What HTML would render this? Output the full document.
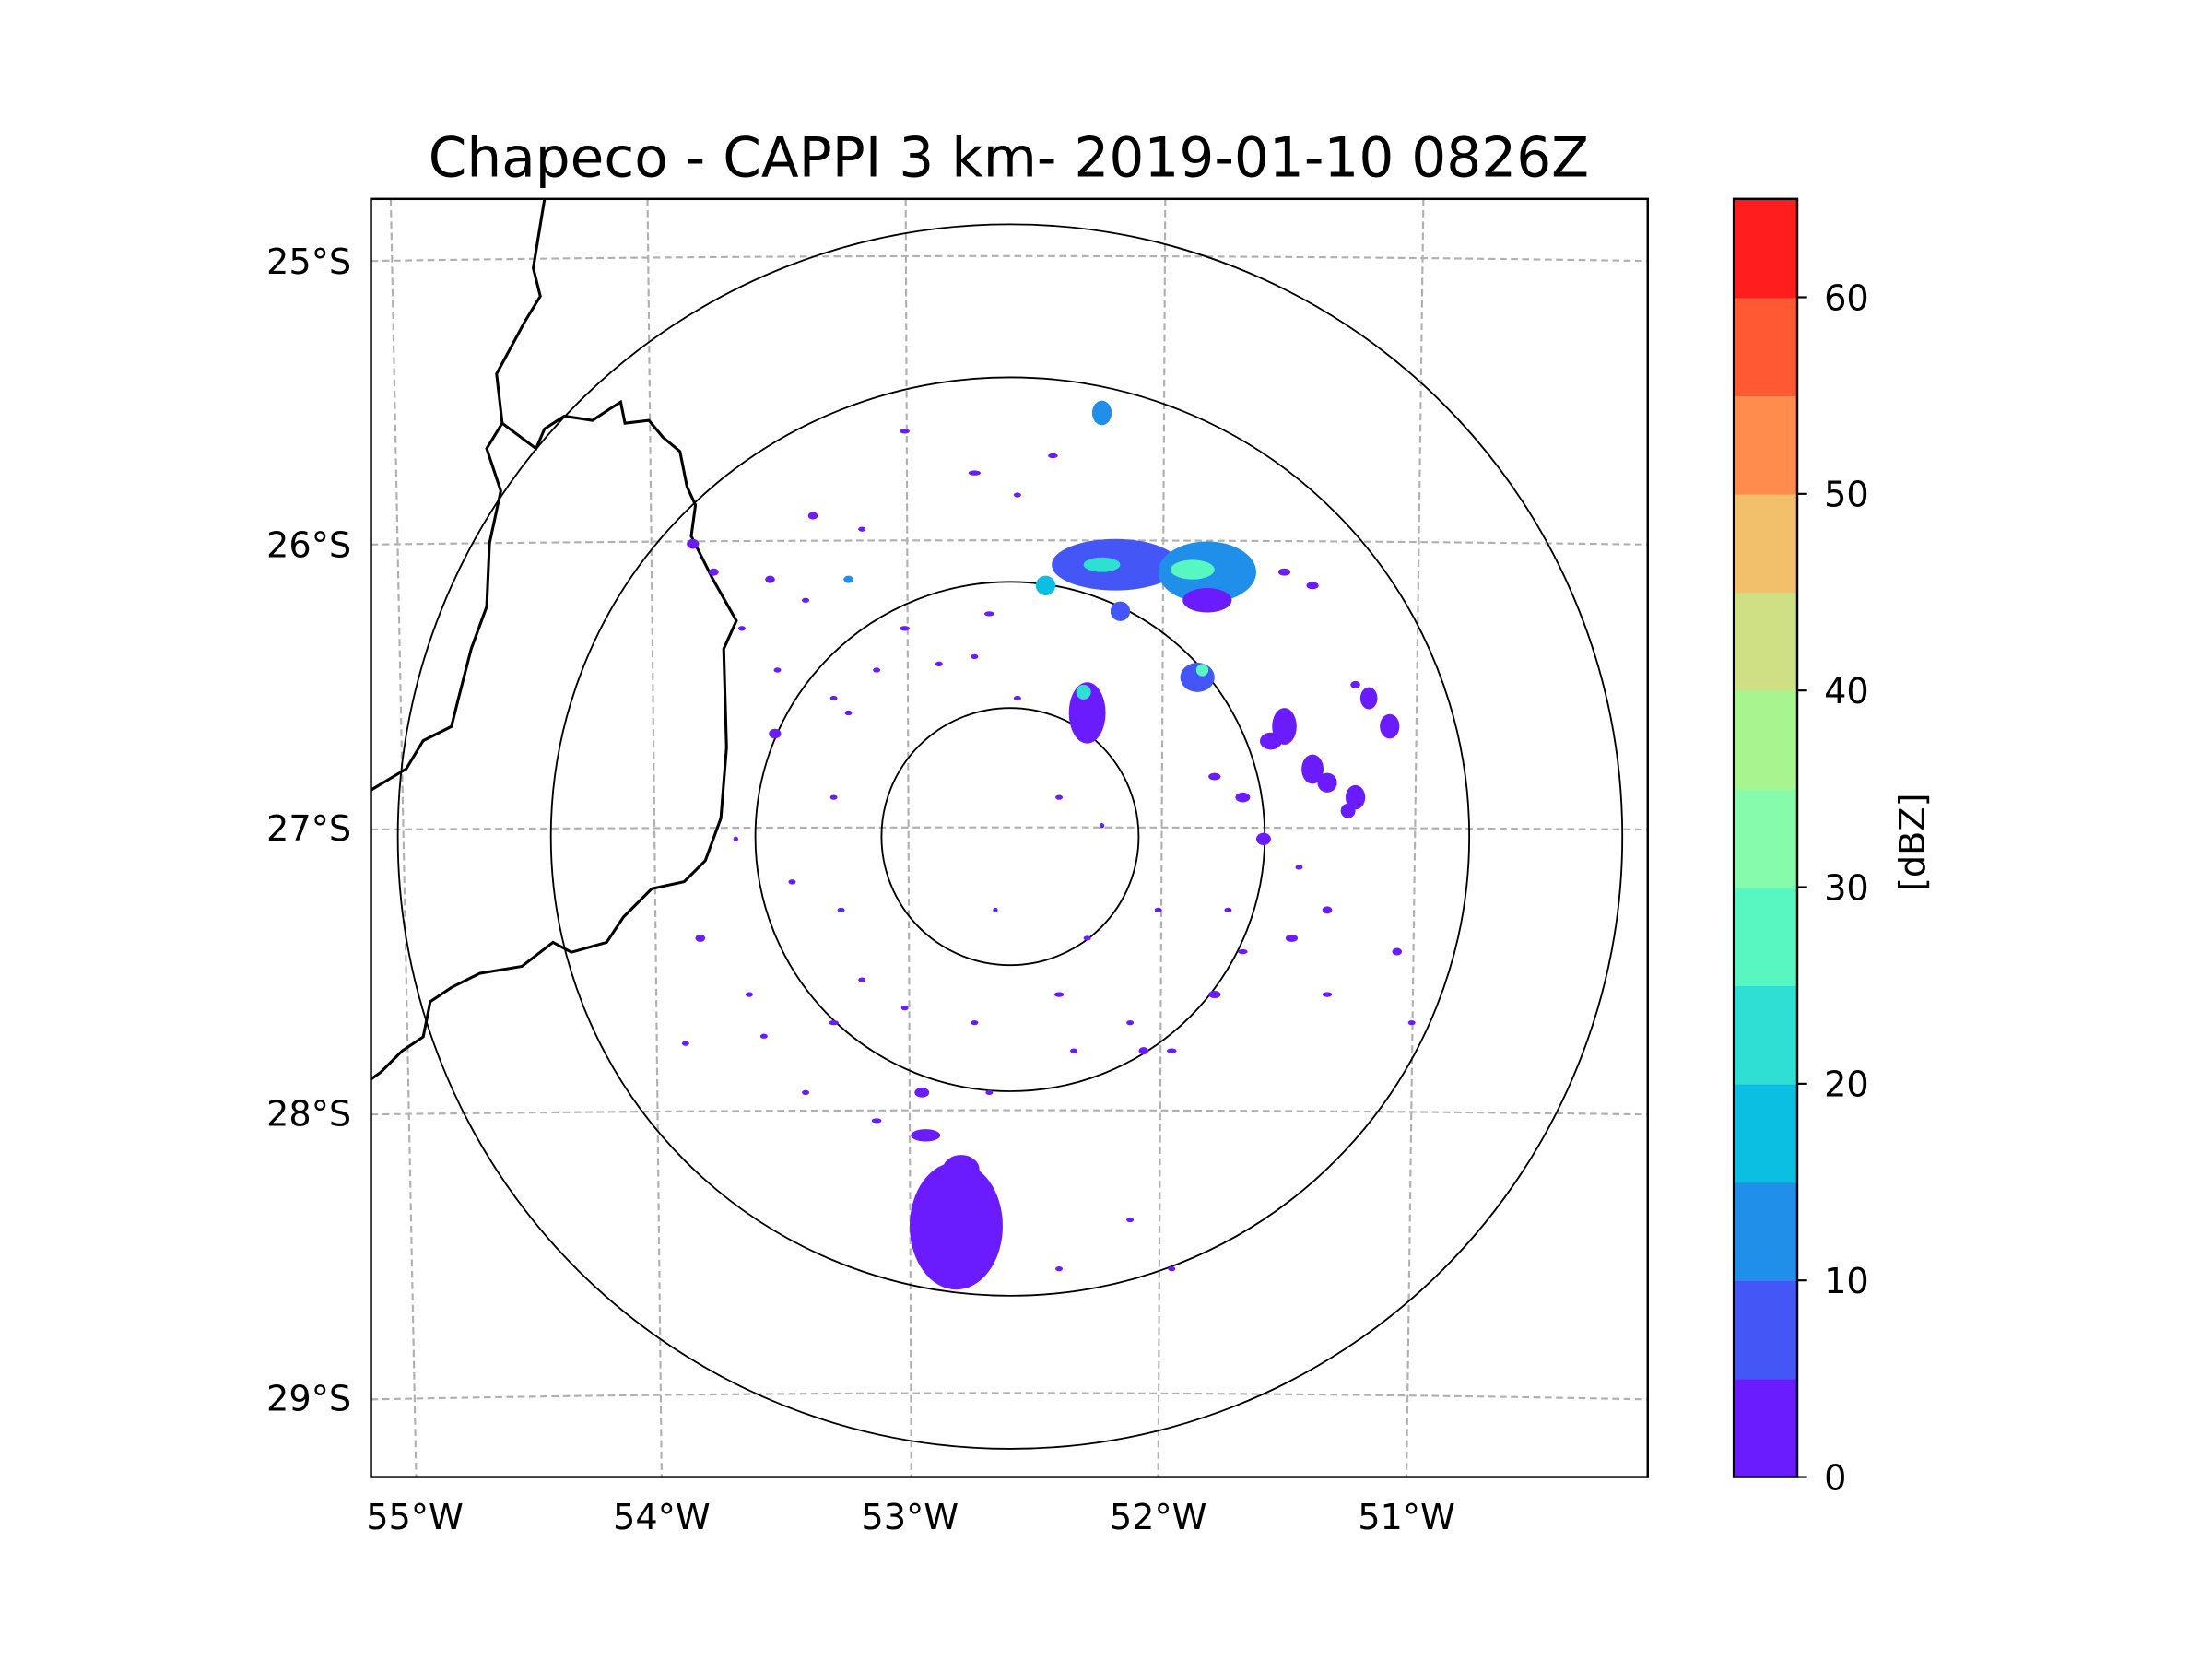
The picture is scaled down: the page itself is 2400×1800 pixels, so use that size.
<!DOCTYPE html>
<html><head><meta charset="utf-8"><style>
html,body{margin:0;padding:0;background:#fff}
svg{display:block}
text{font-family:"DejaVu Sans","Liberation Sans",sans-serif;fill:#000}
</style></head><body>
<svg id="chart" width="2400" height="1800" viewBox="0 0 1568 1176" preserveAspectRatio="none" xmlns="http://www.w3.org/2000/svg">
<rect width="1568" height="1176" fill="#fff"/>
<text x="715" y="125" font-size="39" text-anchor="middle">Chapeco - CAPPI 3 km- 2019-01-10 0826Z</text>
<defs><clipPath id="axclip"><rect x="263" y="141" width="905" height="906"/></clipPath></defs>
<g id="grid" stroke="#b0b0b0" stroke-width="1.4" stroke-dasharray="5,3" fill="none" clip-path="url(#axclip)">
<path d="M263,185 Q715,178 1168,185"/>
<path d="M263,386 Q715,380 1168,386"/>
<path d="M263,588 Q715,585 1168,588"/>
<path d="M263,790 Q715,784 1168,790"/>
<path d="M263,992 Q715,983 1168,992"/>
<path d="M277,141 L295,1047"/>
<path d="M459,141 L469,1047"/>
<path d="M642,141 L646,1047"/>
<path d="M826,141 L821,1047"/>
<path d="M1009,141 L997,1047"/>
</g>
<g fill="none" stroke="#000" stroke-width="2" clip-path="url(#axclip)">
<polyline points="386,141 378,190 383,210 372,228 352,265 356,300 345,318 355,348 347,385 345,430 334,460 325,495 320,515 300,525 288,545 263,560"/>
<polyline points="356,300 380,318 386,304 400,295 420,298 432,290 440,285 443,300 460,298 470,310 482,320 487,345 493,358 490,380 505,410 522,440 513,460 515,530 511,580 500,610 485,625 462,630 442,650 430,668 405,675 392,668 370,685 340,690 320,700 305,710 300,735 285,745 270,760 263,765"/>
</g>
<g id="rings" fill="none" stroke="#000" stroke-width="1.2"></g>
<g id="echoes" clip-path="url(#axclip)"></g>
<rect x="263" y="141" width="905" height="906" fill="none" stroke="#000" stroke-width="1.6"/>
<g font-size="25" text-anchor="end">
<text x="249" y="194">25°S</text>
<text x="249" y="395">26°S</text>
<text x="249" y="596">27°S</text>
<text x="249" y="798">28°S</text>
<text x="249" y="1000">29°S</text>
</g>
<g font-size="25" text-anchor="middle">
<text x="294" y="1084">55°W</text>
<text x="469" y="1084">54°W</text>
<text x="645" y="1084">53°W</text>
<text x="821" y="1084">52°W</text>
<text x="997" y="1084">51°W</text>
</g>
<g id="cbar"></g>
<text font-size="25" transform="translate(1364,597) rotate(-90)" text-anchor="middle">[dBZ]</text>
</svg>
<script>
const levelBounds = [0,5,10,15,20,25,30,35,40,45,50,55,60,65];
const levelColors = ["#6a1cff","#4456f5","#1f8fe9","#0bbfe3","#2fdfd4","#58f6c1","#85fbab","#a8f48f","#cfdf83","#f2bf6b","#ff8c4d","#ff5933","#ff1d1d"];
const cbarTicks = [0,10,20,30,40,50,60];
const ringRanges = [105,208,375,500];
// echo data: km east / km north of radar, radius (km), reflectivity (dBZ)
const echoX = [-44,-40,-69,-72, 86,161,75,149,29,90,161, 75, 63,60,153,157, 224,247,282,293,310,213,259,276,207,
 -86,-29,35,6,-161,-121,-132,-196,-167,-259,-192,-242,-219,-144,-86,-58,-17,-29,-132,-144,-224,-178,-253,-213,-144,-121,-86,-29,40,98,132,167,190,230,236,259,316,328,259,190,167,282,224,247,178,121,63,-12,40,75,109,132,40,98,-167,-109,-201,-265,-17,-138,-109,52,-190,6];
const echoY = [-318,-272,-244,-209, 222,216,222,218,205,184,193, 346, 101,118,130,136, 90,55,32,113,90,78,44,21,-2,
 331,297,311,279,262,251,210,210,193,239,84,216,170,113,170,141,182,147,101,32,-2,-37,-83,-129,-152,-117,-140,-152,-129,-152,-175,-129,-94,-83,-25,-60,-94,-152,-129,32,49,124,216,205,-60,-60,-83,-60,32,9,-175,-353,-353,-313,-209,-232,-163,-169,-209,-60,136,-175,136,113];
const echoRx = [38,15,12,6, 52,40,15,18,8,8,20, 8, 15,6,14,5, 10,9,8,7,8,9,8,6,6,
 4,5,4,3,4,3,4,4,3,5,5,4,3,3,4,3,4,3,3,3,2,3,4,3,4,3,3,3,4,3,4,5,4,5,3,4,4,3,4,6,5,4,5,5,3,3,3,2,3,2,4,3,3,3,3,4,3,3,3,3,3,3,3,3];
const echoRy = [52,12,5,4, 21,25,6,8,8,8,10, 10, 25,6,12,5, 15,12,10,9,10,7,8,6,5,
 2,2,2,2,3,2,3,3,2,4,4,3,2,2,2,2,2,2,2,2,2,2,3,2,2,2,2,2,2,2,2,3,2,3,2,3,3,2,2,4,3,3,3,3,2,2,2,2,2,2,3,2,2,2,2,2,2,2,2,2,2,2,2,2];
const echoDbz = [2,3,3,2, 8,10,22,25,18,5,4, 12, 4,22,8,25, 4,3,3,3,3,3,3,2,3,
 3,3,3,3,3,3,12,3,3,3,3,3,3,3,3,3,3,3,3,3,3,3,3,3,3,3,3,3,3,3,3,3,3,3,3,3,3,3,3,3,3,3,3,3,3,3,3,3,3,3,3,3,3,3,3,3,3,3,3,3,3,3,3,3];

const NS="http://www.w3.org/2000/svg";
const cx=716, cy=593, pxPerKm=0.868;
function xScale(km){return cx+km*pxPerKm;}
function yScale(km){return cy-km*pxPerKm;}
function colorFor(v){for(let i=levelBounds.length-2;i>=0;i--){if(v>=levelBounds[i])return levelColors[i];}return levelColors[0];}
const cbTop=141, cbBot=1047;
function cbScale(v){return cbBot-(v-levelBounds[0])/(levelBounds[levelBounds.length-1]-levelBounds[0])*(cbBot-cbTop);}

const rings=document.getElementById('rings');
ringRanges.forEach(function(r,i){
  const c=document.createElementNS(NS,'circle');
  
  
  c.setAttribute('cx',cx);c.setAttribute('cy',cy);c.setAttribute('r',r*pxPerKm);
  rings.appendChild(c);
});

const eg=document.getElementById('echoes');
for(let i=0;i<echoX.length;i++){
  const e=document.createElementNS(NS,'ellipse');
  
  
  e.setAttribute('cx',xScale(echoX[i]));e.setAttribute('cy',yScale(echoY[i]));
  e.setAttribute('rx',echoRx[i]*pxPerKm);e.setAttribute('ry',echoRy[i]*pxPerKm);
  e.setAttribute('fill',colorFor(echoDbz[i]));
  eg.appendChild(e);
}

const cb=document.getElementById('cbar');
for(let i=0;i<levelColors.length;i++){
  const r=document.createElementNS(NS,'rect');
  
  
  const y1=cbScale(levelBounds[i+1]), y0=cbScale(levelBounds[i]);
  r.setAttribute('x',1229);r.setAttribute('y',y1);r.setAttribute('width',45);r.setAttribute('height',y0-y1+0.5);
  r.setAttribute('fill',levelColors[i]);
  cb.appendChild(r);
}
const frame=document.createElementNS(NS,'rect');


frame.setAttribute('x',1229);frame.setAttribute('y',cbTop);frame.setAttribute('width',45);frame.setAttribute('height',cbBot-cbTop);
frame.setAttribute('fill','none');frame.setAttribute('stroke','#000');frame.setAttribute('stroke-width','1.6');
cb.appendChild(frame);
cbarTicks.forEach(function(t){
  const y=cbScale(t);
  const l=document.createElementNS(NS,'line');
  
  
  l.setAttribute('x1',1274);l.setAttribute('x2',1281);l.setAttribute('y1',y);l.setAttribute('y2',y);
  l.setAttribute('stroke','#000');l.setAttribute('stroke-width','1.4');
  cb.appendChild(l);
  const tx=document.createElementNS(NS,'text');
  
  
  tx.setAttribute('x',1293);tx.setAttribute('y',y+9);tx.setAttribute('font-size','25');
  tx.textContent=String(t);
  cb.appendChild(tx);
});
</script>
</body></html>
